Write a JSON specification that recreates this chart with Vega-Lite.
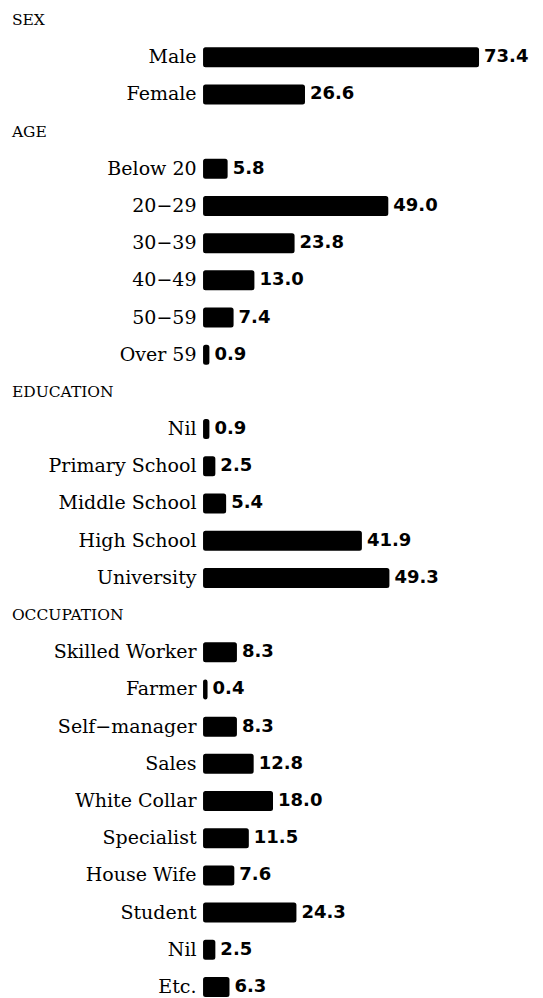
{
  "$schema": "https://vega.github.io/schema/vega-lite/v6.json",
  "width": 543,
  "height": 998,
  "autosize": {"type": "none"},
  "padding": 0,
  "background": "white",
  "config": {"view": {"stroke": null}},
  "data": {
    "values": [
      {"key": "h-sex", "type": "header", "label": "SEX", "value": null},
      {"key": "sex-male", "type": "item", "label": "Male", "value": 73.4},
      {"key": "sex-female", "type": "item", "label": "Female", "value": 26.6},
      {"key": "h-age", "type": "header", "label": "AGE", "value": null},
      {"key": "age-1", "type": "item", "label": "Below 20", "value": 5.8},
      {"key": "age-2", "type": "item", "label": "20−29", "value": 49.0},
      {"key": "age-3", "type": "item", "label": "30−39", "value": 23.8},
      {"key": "age-4", "type": "item", "label": "40−49", "value": 13.0},
      {"key": "age-5", "type": "item", "label": "50−59", "value": 7.4},
      {"key": "age-6", "type": "item", "label": "Over 59", "value": 0.9},
      {"key": "h-edu", "type": "header", "label": "EDUCATION", "value": null},
      {"key": "edu-1", "type": "item", "label": "Nil", "value": 0.9},
      {"key": "edu-2", "type": "item", "label": "Primary School", "value": 2.5},
      {"key": "edu-3", "type": "item", "label": "Middle School", "value": 5.4},
      {"key": "edu-4", "type": "item", "label": "High School", "value": 41.9},
      {"key": "edu-5", "type": "item", "label": "University", "value": 49.3},
      {"key": "h-occ", "type": "header", "label": "OCCUPATION", "value": null},
      {"key": "occ-1", "type": "item", "label": "Skilled Worker", "value": 8.3},
      {"key": "occ-2", "type": "item", "label": "Farmer", "value": 0.4},
      {"key": "occ-3", "type": "item", "label": "Self−manager", "value": 8.3},
      {"key": "occ-4", "type": "item", "label": "Sales", "value": 12.8},
      {"key": "occ-5", "type": "item", "label": "White Collar", "value": 18.0},
      {"key": "occ-6", "type": "item", "label": "Specialist", "value": 11.5},
      {"key": "occ-7", "type": "item", "label": "House Wife", "value": 7.6},
      {"key": "occ-8", "type": "item", "label": "Student", "value": 24.3},
      {"key": "occ-9", "type": "item", "label": "Nil", "value": 2.5},
      {"key": "occ-10", "type": "item", "label": "Etc.", "value": 6.3}
    ]
  },
  "encoding": {
    "y": {
      "field": "key",
      "type": "nominal",
      "axis": null,
      "scale": {
        "domain": ["h-sex", "sex-male", "sex-female", "h-age", "age-1", "age-2", "age-3", "age-4", "age-5", "age-6", "h-edu", "edu-1", "edu-2", "edu-3", "edu-4", "edu-5", "h-occ", "occ-1", "occ-2", "occ-3", "occ-4", "occ-5", "occ-6", "occ-7", "occ-8", "occ-9", "occ-10"],
        "paddingInner": 0.543, "paddingOuter": 0.189, "align": 0.82
      }
    }
  },
  "layer": [
    {
      "transform": [{"filter": "datum.type === 'item'"}],
      "mark": {"type": "bar", "color": "black", "stroke": "black", "strokeWidth": 3, "cornerRadius": 1},
      "encoding": {
        "x": {"field": "value", "type": "quantitative", "axis": null, "scale": {"domain": [-55, 91], "nice": false, "zero": false}}
      }
    },
    {
      "transform": [{"filter": "datum.type === 'item'"}],
      "mark": {"type": "text", "align": "right", "baseline": "middle", "dx": -8, "font": "DejaVu Serif", "fontSize": 19, "color": "black"},
      "encoding": {
        "x": {"datum": 0, "type": "quantitative"},
        "text": {"field": "label"}
      }
    },
    {
      "transform": [{"filter": "datum.type === 'item'"}],
      "mark": {"type": "text", "align": "left", "baseline": "middle", "dx": 6.5, "font": "DejaVu Sans", "fontWeight": "bold", "fontSize": 18, "color": "black"},
      "encoding": {
        "x": {"field": "value", "type": "quantitative"},
        "text": {"field": "value", "format": ".1f"}
      }
    },
    {
      "transform": [{"filter": "datum.type === 'header'"}],
      "mark": {"type": "text", "align": "left", "baseline": "middle", "font": "DejaVu Serif", "fontSize": 15.5, "color": "black"},
      "encoding": {
        "x": {"datum": -51.8, "type": "quantitative"},
        "text": {"field": "label"}
      }
    }
  ]
}
